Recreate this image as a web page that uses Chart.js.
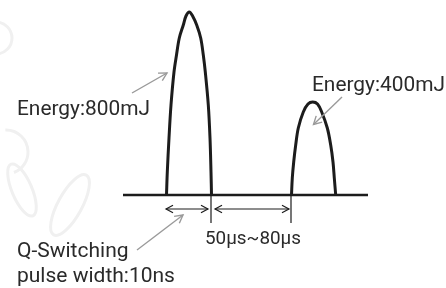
<!DOCTYPE html>
<html>
<head>
<meta charset="UTF-8">
<title>Q-Switching pulses</title>
<script src="https://cdn.jsdelivr.net/npm/chart.js"></script>
<style>
body{margin:0;background:#fff;}
#wrap{width:446px;height:288px;}
</style>
</head>
<body>
<div id="wrap"><canvas id="c" width="446" height="288"></canvas></div>
<script>
// time on x, amplitude on y (0 = baseline)
const pulse1X=[166.5,167.3,169,171,174,176.5,179.3,183.3,186,189.3,192.6,196.7,200.7,203.3,205.3,208.3,210,211,211.5];
const pulse1Y=[0,23,57,90,123,140,157,170,179,183,179,170,157,140,123,90,57,23,0];
const pulse2X=[291.5,292.3,293.7,295.7,298.3,303.3,308,312.7,317.5,321.7,327.3,330.7,333,334.3,335.7];
const pulse2Y=[0,17,33,50,67,83,91,93,91,83,67,50,33,17,0];
const baseX=[123,368];
const baseY=[0,0];

// dimension marks below the baseline
const tickX=[211,291];
const spanFrom=[166,215];
const spanTo=[208,289];

const labels=['Energy:800mJ','Energy:400mJ','Q-Switching','pulse width:10ns','50μs~80μs'];

function pts(xs,ys){return xs.map((v,i)=>({x:v,y:ys[i]}));}

function arrowHead(ctx,x1,y1,x2,y2,len){
  const a=Math.atan2(y2-y1,x2-x1);
  ctx.beginPath();
  ctx.moveTo(x2-len*Math.cos(a-0.5),y2-len*Math.sin(a-0.5));
  ctx.lineTo(x2,y2);
  ctx.lineTo(x2-len*Math.cos(a+0.5),y2-len*Math.sin(a+0.5));
  ctx.stroke();
}
function arrow(ctx,x1,y1,x2,y2,len,both){
  ctx.beginPath();ctx.moveTo(x1,y1);ctx.lineTo(x2,y2);ctx.stroke();
  arrowHead(ctx,x1,y1,x2,y2,len);
  if(both) arrowHead(ctx,x2,y2,x1,y1,len);
}

const notes={
  id:'notes',
  beforeDraw(chart){
    // faint decoration on the left edge
    const ctx=chart.ctx;
    ctx.save();
    ctx.strokeStyle='#f0f0f0';ctx.lineWidth=3;
    ctx.beginPath();ctx.arc(-4,38,16,0,Math.PI*2);ctx.stroke();
    ctx.beginPath();ctx.arc(6,152,22,-1.6,1.2);ctx.stroke();
    ctx.beginPath();ctx.ellipse(70,205,12,34,0.5,0,Math.PI*2);ctx.stroke();
    ctx.beginPath();ctx.ellipse(22,190,10,28,-0.4,0,Math.PI*2);ctx.stroke();
    ctx.restore();
  },
  afterDatasetsDraw(chart){
    const {ctx,scales:{x,y}}=chart;
    const X=v=>x.getPixelForValue(v), Y=v=>y.getPixelForValue(v);
    ctx.save();
    // ticks and span arrows
    ctx.strokeStyle='#1c1c1c';ctx.lineWidth=1.2;
    tickX.forEach(t=>{ctx.beginPath();ctx.moveTo(X(t),Y(0));ctx.lineTo(X(t),Y(-28));ctx.stroke();});
    spanFrom.forEach((f,i)=>arrow(ctx,X(f),Y(-14),X(spanTo[i]),Y(-14),8,true));
    // grey pointers
    ctx.strokeStyle='#9a9a9a';ctx.lineWidth=1.4;
    arrow(ctx,X(132),Y(102),X(167),Y(122),9,false);
    arrow(ctx,X(342),Y(98),X(313.5),Y(70.5),9,false);
    arrow(ctx,X(137),Y(-55),X(183),Y(-20),9,false);
    // text
    ctx.fillStyle='#2a2a2a';
    ctx.font='21px Roboto';
    ctx.textBaseline='alphabetic';
    ctx.fillText(labels[0],X(17),Y(80),133);
    ctx.fillText(labels[1],X(312),Y(104),133);
    ctx.fillText(labels[2],X(17),Y(-62),114);
    ctx.fillText(labels[3],X(17),Y(-87),159);
    ctx.font='19px Roboto';
    ctx.fillText(labels[4],X(205),Y(-49),96);
    ctx.restore();
  }
};

new Chart(document.getElementById('c'),{
  type:'scatter',
  data:{datasets:[
    {data:pts(baseX,baseY),showLine:true,borderColor:'#1c1c1c',borderWidth:2.6,pointRadius:0,tension:0},
    {data:pts(pulse1X,pulse1Y),showLine:true,borderColor:'#1c1c1c',borderWidth:3,pointRadius:0,tension:0.35},
    {data:pts(pulse2X,pulse2Y),showLine:true,borderColor:'#1c1c1c',borderWidth:3,pointRadius:0,tension:0.35}
  ]},
  options:{
    responsive:false,
    animation:false,
    layout:{padding:0},
    plugins:{legend:{display:false},tooltip:{enabled:false}},
    scales:{
      x:{type:'linear',min:0,max:446,display:false},
      y:{type:'linear',min:-93,max:195,display:false}
    }
  },
  plugins:[notes]
});
</script>
</body>
</html>
